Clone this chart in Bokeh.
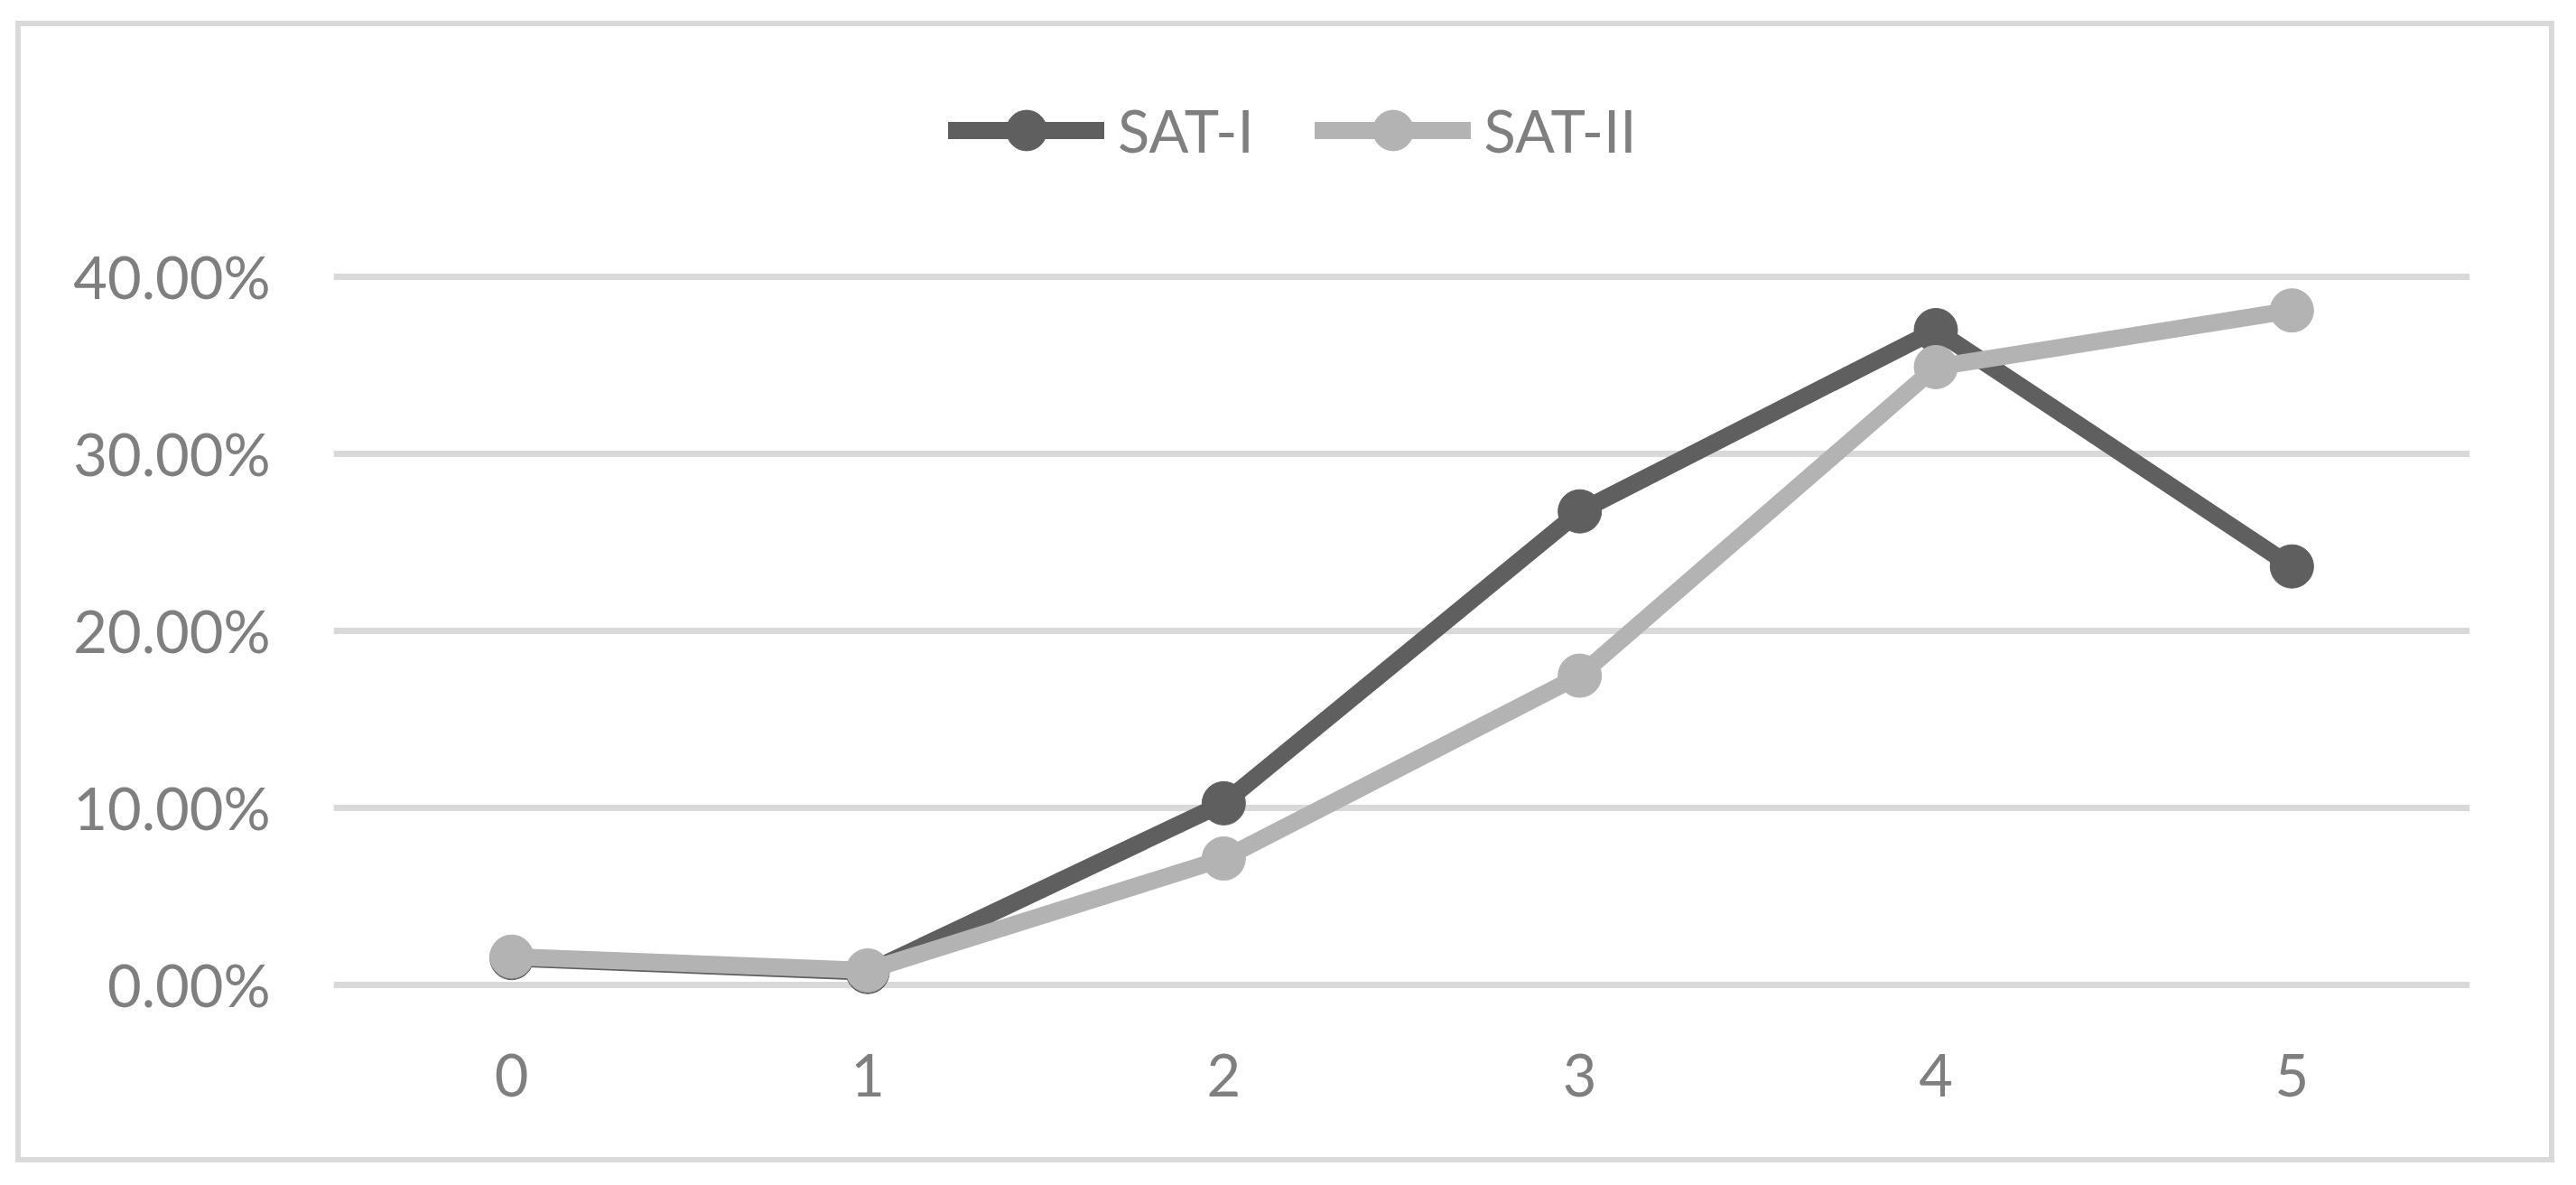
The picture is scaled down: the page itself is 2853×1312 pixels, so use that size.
from bokeh.plotting import figure
from bokeh.models import Range1d, FixedTicker, NumeralTickFormatter, Legend, LegendItem
from bokeh.embed import file_html
from bokeh.resources import INLINE

# ---- data ----
categories = ["0", "1", "2", "3", "4", "5"]
sat1 = [0.0152, 0.0073, 0.1026, 0.2675, 0.3699, 0.2364]
sat2 = [0.0160, 0.0082, 0.0714, 0.1747, 0.3490, 0.3810]
series_names = ["SAT-I", "SAT-II"]
y_ticks = [0.0, 0.1, 0.2, 0.3, 0.4]

# ---- style ----
FONT = "Lato"
TEXT = "#7f7f7f"
GRID = "#d9d9d9"
C1 = "#5f5f5f"
C2 = "#b3b3b3"

p = figure(
    x_range=categories,
    y_range=Range1d(-0.0199, 0.5311),
    width=2812, height=1264,
    output_backend="svg", toolbar_location=None,
    min_border_left=346, min_border_right=100,
    min_border_top=20, min_border_bottom=164,
)
p.styles = {"border": "6px solid " + GRID, "margin-left": "17px", "margin-top": "23px",
            "background-color": "white"}
p.outline_line_color = None
p.background_fill_color = "white"
p.border_fill_alpha = 0

p.xgrid.grid_line_color = None
p.ygrid.grid_line_color = GRID
p.ygrid.grid_line_width = 7
p.yaxis.ticker = FixedTicker(ticks=y_ticks)
p.yaxis.formatter = NumeralTickFormatter(format="0.00%")

for ax in (p.xaxis, p.yaxis):
    ax.axis_line_color = None
    ax.major_tick_line_color = None
    ax.minor_tick_line_color = None
    ax.major_tick_out = 0
    ax.major_tick_in = 0
    ax.major_label_text_font = FONT
    ax.major_label_text_font_size = "65px"
    ax.major_label_text_color = TEXT
p.yaxis.major_label_standoff = 70
p.xaxis.major_label_standoff = 37

r1l = p.line(categories, sat1, line_color=C1, line_width=19, line_join="round", line_cap="round")
r1m = p.scatter(categories, sat1, size=48, fill_color=C1, line_color=C1, line_width=1)
r2l = p.line(categories, sat2, line_color=C2, line_width=19, line_join="round", line_cap="round")
r2m = p.scatter(categories, sat2, size=48, fill_color=C2, line_color=C2, line_width=1)

legend = Legend(
    items=[LegendItem(label=series_names[0], renderers=[r1l, r1m]),
           LegendItem(label=series_names[1], renderers=[r2l, r2m])],
    orientation="horizontal",
    location=(681, 929),
    glyph_width=173, glyph_height=112,
    label_standoff=15, spacing=67,
    padding=0, margin=0,
    border_line_color=None, background_fill_alpha=0,
    label_text_font=FONT, label_text_font_size="65px", label_text_color=TEXT,
)
p.add_layout(legend, "center")

open("out.html", "w").write(file_html(p, INLINE))
